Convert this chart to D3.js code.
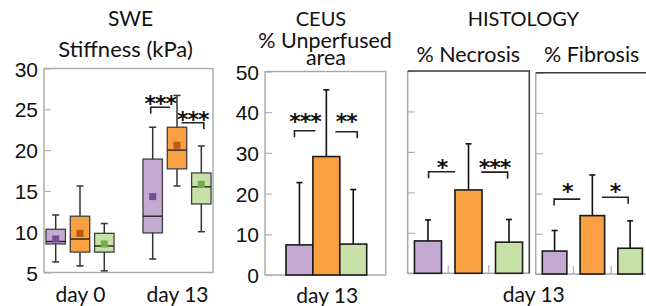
<!DOCTYPE html>
<html>
<head>
<meta charset="utf-8">
<script src="https://cdn.jsdelivr.net/npm/d3@7"></script>
<style>
  body { margin: 0; background: #fff; }
  text { fill: #111; }
</style>
</head>
<body>
<div id="chart"></div>
<script>
// DATA
const groups = ["g1", "g2", "g3"];
const groupFill = ["#c3aad3", "#f9a043", "#c8e1a9"];
const groupMean = ["#7b4b94", "#c1580f", "#72ae4a"];

// SWE stiffness (kPa), box plots per day
const sweDays = ["day 0", "day 13"];
const sweMin = [[6.3, 5.8, 5.2], [6.65, 15.6, 10.0]];
const sweQ1 = [[8.5, 7.5, 7.5], [9.85, 17.7, 13.4]];
const sweMedian = [[8.8, 9.1, 8.25], [11.9, 20.0, 15.5]];
const sweQ3 = [[10.3, 11.9, 9.8], [18.9, 22.8, 17.2]];
const sweMax = [[12.05, 15.6, 11.0], [22.8, 26.7, 20.5]];
const sweMeanVal = [[9.1, 9.8, 8.5], [14.3, 20.6, 15.8]];
const sweTicks = [5, 10, 15, 20, 25, 30];

// CEUS % unperfused area, day 13
const ceusDays = ["day 13"];
const ceusMean = [7.4, 29.1, 7.6];
const ceusSd = [15.3, 16.4, 13.4];
const ceusTicks = [0, 10, 20, 30, 40, 50];

// Histology, day 13 (axis unlabeled)
const necrosisMean = [8.0, 20.6, 7.7];
const necrosisSd = [5.2, 11.4, 5.6];
const fibrosisMean = [5.7, 14.5, 6.4];
const fibrosisSd = [5.1, 10.1, 6.8];
const histTicks = [0, 10, 20, 30, 40, 50];

// significance: group a vs b, bracket level, star level
const sweSig = [
  { a: 0, b: 1, level: 25.25, star: 26.4, label: "***", side: "left" },
  { a: 1, b: 2, level: 23.36, star: 24.4, label: "***", side: "right" }
];
const ceusSig = [
  { a: 0, b: 1, level: 35.45, star: 38.9, label: "***", side: "left" },
  { a: 1, b: 2, level: 35.2, star: 38.9, label: "**", side: "right" }
];
const necrosisSig = [
  { a: 0, b: 1, level: 25.1, star: 27.3, label: "*", side: "left" },
  { a: 1, b: 2, level: 25.0, star: 27.3, label: "***", side: "right" }
];
const fibrosisSig = [
  { a: 0, b: 1, level: 18.6, star: 21.7, label: "*", side: "left" },
  { a: 1, b: 2, level: 19.05, star: 21.7, label: "*", side: "right" }
];

const width = 646, height = 306;
const titleFont = "Lato, 'Open Sans', sans-serif";
const numFont = "'Liberation Sans', Arial, sans-serif";
const starFont = "'DejaVu Sans', sans-serif";

const svg = d3.select("#chart").append("svg")
  .attr("width", width).attr("height", height);

function title(x, y, txt, size) {
  svg.append("text").attr("x", x).attr("y", y)
    .attr("text-anchor", "middle")
    .style("font-family", titleFont).style("font-size", size + "px")
    .text(txt);
}

function yAxis(yScale, ticks, x, labels) {
  const ax = d3.axisLeft(yScale).tickValues(ticks)
    .tickSizeInner(-7).tickSizeOuter(0).tickPadding(6);
  if (!labels) ax.tickFormat("");
  const g = svg.append("g").attr("transform", `translate(${x},0)`).call(ax);
  g.select(".domain").remove();
  g.selectAll("line").attr("stroke", "#b0b0b0").attr("stroke-width", 1.2);
  g.selectAll("text").style("font-family", numFont).style("font-size", "21px")
    .attr("fill", "#111").attr("dy", "0.36em");
}

function xAxis(xScale, yPos) {
  const xa = svg.append("g").attr("transform", `translate(0,${yPos})`)
    .call(d3.axisBottom(xScale).tickSize(0).tickPadding(0));
  xa.select(".domain").remove();
  xa.selectAll("text").style("font-family", titleFont).style("font-size", "21px")
    .attr("fill", "#111").attr("dy", "0.8em");
}

function stars(list, xOf, yScale, gapL, gapR) {
  list.forEach(s => {
    let x1, x2;
    if (s.side === "left") {
      x1 = xOf(s.a) + gapL[0]; x2 = xOf(s.b) + gapL[1];
    } else {
      x1 = xOf(s.a) + gapR[0]; x2 = xOf(s.b) + gapR[1];
    }
    const y = yScale(s.level);
    svg.append("path")
      .attr("d", `M${x1},${s.side === "left" ? y + 6.5 : y}L${x1},${y}L${x2},${y}L${x2},${s.side === "right" ? y + 6.5 : y}`)
      .attr("fill", "none").attr("stroke", "#222").attr("stroke-width", 1.6);
    const fs = 22;
    svg.append("text").attr("x", (x1 + x2) / 2).attr("y", yScale(s.star) + 0.575 * fs)
      .attr("text-anchor", "middle")
      .style("font-family", starFont).style("font-weight", "bold").style("font-size", fs + "px")
      .style("letter-spacing", "-1px")
      .text(s.label);
  });
}

// ---------- SWE panel ----------
{
  const x0 = 44, x1 = 213;
  const y = d3.scaleLinear().domain([5, 30]).range([272.5, 68.5]);
  const xDay = d3.scalePoint().domain(sweDays).range([x0, x1]).padding(0.371);
  const xGrp = d3.scaleBand().domain(groups).range([-36.45, 36.45])
    .paddingInner(0.2).paddingOuter(0.1);

  svg.append("rect").attr("x", x0).attr("y", y(30)).attr("width", x1 - x0)
    .attr("height", y(5) - y(30)).attr("fill", "none")
    .attr("stroke", "#a8a8a8").attr("stroke-width", 1.4);
  yAxis(y, sweTicks, x0, true);

  const bw = xGrp.bandwidth();
  sweDays.forEach((day, di) => {
    groups.forEach((gname, gi) => {
      const cx = xDay(day) + xGrp(gname) + bw / 2;
      const g = svg.append("g");
      g.append("line").attr("x1", cx).attr("x2", cx)
        .attr("y1", y(sweMin[di][gi])).attr("y2", y(sweMax[di][gi]))
        .attr("stroke", "#333").attr("stroke-width", 1.5);
      [sweMin[di][gi], sweMax[di][gi]].forEach(v => {
        g.append("line").attr("x1", cx - 3.5).attr("x2", cx + 3.5)
          .attr("y1", y(v)).attr("y2", y(v))
          .attr("stroke", "#333").attr("stroke-width", 1.5);
      });
      g.append("rect").attr("x", cx - bw / 2).attr("width", bw)
        .attr("y", y(sweQ3[di][gi])).attr("height", y(sweQ1[di][gi]) - y(sweQ3[di][gi]))
        .attr("fill", groupFill[gi]).attr("stroke", "#404040").attr("stroke-width", 1.3);
      g.append("line").attr("x1", cx - bw / 2).attr("x2", cx + bw / 2)
        .attr("y1", y(sweMedian[di][gi])).attr("y2", y(sweMedian[di][gi]))
        .attr("stroke", "#222").attr("stroke-width", 1.4);
      g.append("rect").attr("x", cx - 3.5).attr("y", y(sweMeanVal[di][gi]) - 3.5)
        .attr("width", 7).attr("height", 7).attr("fill", groupMean[gi]);
    });
  });

  xAxis(xDay, 285);
  stars(sweSig, i => xDay("day 13") + xGrp(groups[i]) + bw / 2, y, [-2, -7], [4.5, 2.5]);

  title(130.5, 26, "SWE", 21);
  title(125.5, 56.5, "Stiffness (kPa)", 22);
}

// ---------- bar panels ----------
function barPanel(o) {
  const y = d3.scaleLinear().domain([0, 50]).range([o.yb, o.yt]);
  const x = d3.scaleBand().domain(groups).range([o.bx0, o.bx1])
    .paddingInner(o.pi).paddingOuter(o.po);
  const bw = x.bandwidth();
  const cx = i => x(groups[i]) + bw / 2;

  yAxis(y, o.ticks, o.x0, o.labels);

  if (o.histo) {
    // light left/bottom, dark top/right
    svg.append("path").attr("d", `M${o.x0},${o.yt}L${o.x0},${o.yb}L${o.fx1},${o.yb}`)
      .attr("fill", "none").attr("stroke", "#a8a8a8").attr("stroke-width", 1.5);
    svg.append("path").attr("d", `M${o.x0},${o.yt}L${o.fx1},${o.yt}L${o.fx1},${o.yb}`)
      .attr("fill", "none").attr("stroke", "#3a3a3a").attr("stroke-width", 1.5);
    // category separators at the bottom
    const step = x.step();
    groups.slice(1).forEach(gname => {
      const sx = x(gname) - step * o.pi / 2;
      svg.append("line").attr("x1", sx).attr("x2", sx)
        .attr("y1", o.yb).attr("y2", o.yb - 8)
        .attr("stroke", "#b0b0b0").attr("stroke-width", 1.2);
    });
  } else {
    svg.append("rect").attr("x", o.x0).attr("y", o.yt).attr("width", o.fx1 - o.x0)
      .attr("height", o.yb - o.yt).attr("fill", "none")
      .attr("stroke", "#a8a8a8").attr("stroke-width", 1.4);
  }

  groups.forEach((gname, i) => {
    const top = y(o.means[i] + o.sds[i]);
    svg.append("line").attr("x1", cx(i)).attr("x2", cx(i))
      .attr("y1", y(o.means[i])).attr("y2", top)
      .attr("stroke", "#111").attr("stroke-width", 1.6);
    svg.append("line").attr("x1", cx(i) - 3).attr("x2", cx(i) + 3)
      .attr("y1", top).attr("y2", top)
      .attr("stroke", "#111").attr("stroke-width", 1.6);
    svg.append("rect").attr("x", x(gname)).attr("width", bw)
      .attr("y", y(o.means[i])).attr("height", y(0) - y(o.means[i]))
      .attr("fill", groupFill[i]).attr("stroke", "#1a1a1a").attr("stroke-width", 1.6);
  });

  stars(o.sig, cx, y, o.gapL, o.gapR);
}

// CEUS
barPanel({ x0: 265, fx1: 385.7, bx0: 286, bx1: 366.7, yt: 71.5, yb: 275, pi: 0, po: 0,
  ticks: ceusTicks, labels: true, means: ceusMean, sds: ceusSd, sig: ceusSig,
  gapL: [-5, -11], gapR: [9, 4] });
xAxis(d3.scalePoint().domain(ceusDays).range([326.7, 326.7]), 286);
title(321, 26, "CEUS", 20);
title(325, 48, "% Unperfused", 21.5);
title(326, 65, "area", 21.5);

// Necrosis
barPanel({ x0: 407.7, fx1: 529.3, bx0: 407.7, bx1: 529.3, yt: 71, yb: 273.3,
  pi: 0.333, po: 0.167, histo: true,
  ticks: histTicks, labels: false, means: necrosisMean, sds: necrosisSd, sig: necrosisSig,
  gapL: [0.6, -13.3], gapR: [12.7, -1.4] });

// Fibrosis (frame runs past the right edge)
barPanel({ x0: 535.7, fx1: 649, bx0: 535.7, bx1: 649, yt: 72.7, yb: 274,
  pi: 0.35, po: 0.175, histo: true,
  ticks: histTicks, labels: false, means: fibrosisMean, sds: fibrosisSd, sig: fibrosisSig,
  gapL: [-0.5, -12], gapR: [9.5, -2] });

xAxis(d3.scalePoint().domain(ceusDays).range([533.3, 533.3]), 285);
title(523.3, 26, "HISTOLOGY", 20);
title(468.3, 62, "% Necrosis", 21.5);
title(591.7, 62, "% Fibrosis", 21.5);
</script>
</body>
</html>
